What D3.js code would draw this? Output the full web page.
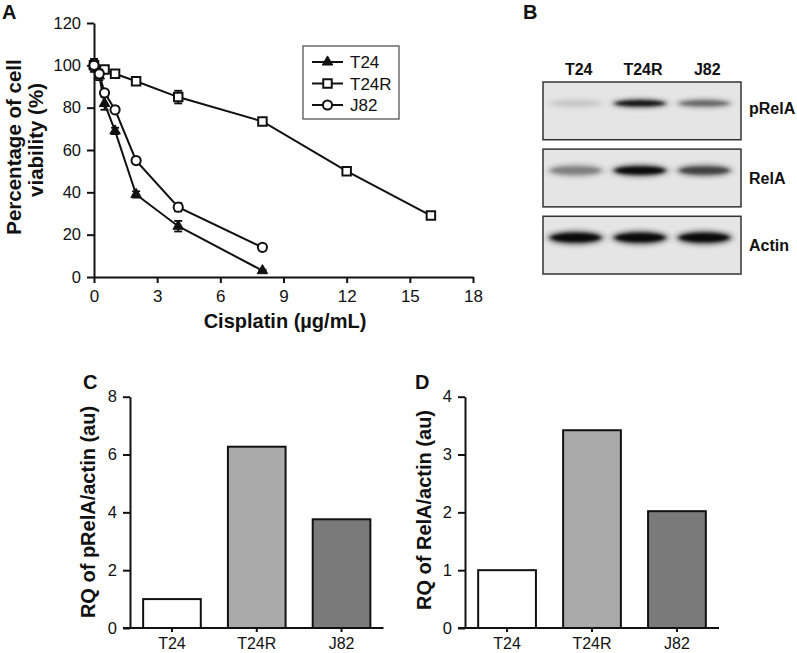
<!DOCTYPE html>
<html><head><meta charset="utf-8">
<script src="https://cdn.jsdelivr.net/npm/d3@7"></script>
<style>
body{margin:0;background:#fff;}
svg text{font-family: Arial, "Liberation Sans", Helvetica, sans-serif; fill:#111;}
</style>
</head><body>
<svg id="chart" width="797" height="653"></svg>
<script>
// ---------- Panel A data ----------
const concT24  = [0, 0.25, 0.5, 1, 2, 4, 8];
const viaT24   = [100, 95, 82, 69, 39, 24, 3];
const errT24   = [3, 2, 3, 1.5, 1.5, 2.5, 0.5];
const concT24R = [0, 0.5, 1, 2, 4, 8, 12, 16];
const viaT24R  = [100, 98, 96, 92.5, 85, 73.5, 50, 29];
const errT24R  = [2, 1, 1, 1, 3, 1, 1.5, 1];
const concJ82  = [0, 0.25, 0.5, 1, 2, 4, 8];
const viaJ82   = [100, 96, 87, 79, 55, 33, 14];
const errJ82   = [3, 2, 1.5, 1.5, 1.5, 2, 1.5];
const xTicksA  = [0, 3, 6, 9, 12, 15, 18];
const yTicksA  = [0, 20, 40, 60, 80, 100, 120];
const seriesNames = ["T24", "T24R", "J82"];

// ---------- Panel B data ----------
const lanes = ["T24", "T24R", "J82"];
const blotRows = ["pRelA", "RelA", "Actin"];
const pRelABands = [0.18, 0.95, 0.6];
const relABands  = [0.5, 1.0, 0.75];
const actinBands = [1.0, 1.0, 1.0];

// ---------- Panels C / D data ----------
const categories = ["T24", "T24R", "J82"];
const pRelAValues = [1.0, 6.27, 3.76];
const relAValues  = [1.0, 3.42, 2.02];
const yTicksC = [0, 2, 4, 6, 8];
const yTicksD = [0, 1, 2, 3, 4];
const barFills = ["#ffffff", "#aaaaaa", "#7a7a7a"];

const svg = d3.select("#chart");
const defs = svg.append("defs");
defs.append("filter").attr("id","blurS").attr("x","-30%").attr("y","-150%").attr("width","160%").attr("height","400%")
  .append("feGaussianBlur").attr("stdDeviation","2.2 1.6");
defs.append("filter").attr("id","blurL").attr("x","-30%").attr("y","-150%").attr("width","160%").attr("height","400%")
  .append("feGaussianBlur").attr("stdDeviation","3.5 2.5");

function styleAxis(g, fs){
  g.selectAll("path.domain").attr("stroke","#111").attr("stroke-width",2);
  g.selectAll(".tick line").attr("stroke","#111").attr("stroke-width",2);
  g.selectAll(".tick text").attr("font-size",fs).attr("fill","#111")
    .style("font-family","Arial, 'Liberation Sans', Helvetica, sans-serif");
}

// panel letters
function letter(t, x, y){
  svg.append("text").attr("x",x).attr("y",y).attr("font-size",20).attr("font-weight","bold").text(t);
}
letter("A", 2, 19);
letter("B", 523, 19);
letter("C", 83, 389);
letter("D", 415, 389);

// ================= Panel A =================
const xA = d3.scaleLinear().domain([0,18]).range([94,473]);
const yA = d3.scaleLinear().domain([0,120]).range([277,23]);

const gxA = svg.append("g").attr("transform",`translate(0,${yA(0)})`)
  .call(d3.axisBottom(xA).tickValues(xTicksA).tickSize(6).tickSizeOuter(0).tickPadding(7));
styleAxis(gxA, 17);
const gyA = svg.append("g").attr("transform",`translate(${xA(0)},0)`)
  .call(d3.axisLeft(yA).tickValues(yTicksA).tickSize(7).tickSizeOuter(0).tickPadding(6));
styleAxis(gyA, 16.5);

svg.append("text").attr("x",285).attr("y",328).attr("text-anchor","middle")
  .attr("font-size",20).attr("font-weight","bold").text("Cisplatin (µg/mL)");
svg.append("text").attr("transform","translate(21,147) rotate(-90)").attr("text-anchor","middle")
  .attr("font-size",20.5).attr("font-weight","bold").text("Percentage of cell");
svg.append("text").attr("transform","translate(42.5,140) rotate(-90)").attr("text-anchor","middle")
  .attr("font-size",20.5).attr("font-weight","bold").text("viability (%)");

const seriesA = [
  {name:"T24",  xs:concT24,  ys:viaT24,  es:errT24,  sym:"tri"},
  {name:"T24R", xs:concT24R, ys:viaT24R, es:errT24R, sym:"sq"},
  {name:"J82",  xs:concJ82,  ys:viaJ82,  es:errJ82,  sym:"circ"}
];
const line = d3.line().x(d=>xA(d.x)).y(d=>yA(d.y));
function drawMarker(sel, sym){
  if(sym==="tri"){
    sel.append("path").attr("d", d3.symbol(d3.symbolTriangle, 48)())
      .attr("fill","#111").attr("stroke","#111").attr("stroke-width",1);
  } else if(sym==="sq"){
    sel.append("path").attr("d", d3.symbol(d3.symbolSquare, 72)())
      .attr("fill","#fff").attr("stroke","#111").attr("stroke-width",2);
  } else {
    sel.append("circle").attr("r",4.6).attr("fill","#fff").attr("stroke","#111").attr("stroke-width",2);
  }
}
seriesA.forEach(s=>{
  const pts = s.xs.map((x,i)=>({x, y:s.ys[i], e:s.es[i]}));
  const g = svg.append("g");
  g.append("path").datum(pts).attr("d",line).attr("fill","none").attr("stroke","#111").attr("stroke-width",2);
  const eb = g.selectAll("g.eb").data(pts).join("g").attr("class","eb");
  eb.append("line").attr("x1",d=>xA(d.x)).attr("x2",d=>xA(d.x))
    .attr("y1",d=>yA(d.y-d.e)).attr("y2",d=>yA(d.y+d.e)).attr("stroke","#111").attr("stroke-width",1.8);
  [-1,1].forEach(sg=>{
    eb.append("line").attr("x1",d=>xA(d.x)-4).attr("x2",d=>xA(d.x)+4)
      .attr("y1",d=>yA(d.y+sg*d.e)).attr("y2",d=>yA(d.y+sg*d.e)).attr("stroke","#111").attr("stroke-width",1.8);
  });
  const mk = g.selectAll("g.mk").data(pts).join("g").attr("class","mk")
    .attr("transform",d=>`translate(${xA(d.x)},${yA(d.y)})`);
  drawMarker(mk, s.sym);
});

// legend
const legX = 303, legY = 46, legW = 96, legH = 73;
svg.append("rect").attr("x",legX).attr("y",legY).attr("width",legW).attr("height",legH)
  .attr("fill","#fff").attr("stroke","#555").attr("stroke-width",1.3);
const legScale = d3.scalePoint().domain(seriesNames).range([legY+16, legY+59]);
seriesA.forEach(s=>{
  const yy = legScale(s.name);
  svg.append("line").attr("x1",legX+9).attr("x2",legX+40).attr("y1",yy).attr("y2",yy)
    .attr("stroke","#111").attr("stroke-width",2);
  const m = svg.append("g").attr("transform",`translate(${legX+24.5},${yy})`);
  drawMarker(m, s.sym);
  svg.append("text").attr("x",legX+47).attr("y",yy).attr("dy","0.36em").attr("font-size",17).text(s.name);
});

// ================= Panel B (blot) =================
const laneX = d3.scaleBand().domain(lanes).range([543,741]).padding(0.08);
const rowY = d3.scaleBand().domain(blotRows).range([82,274]).paddingInner(0.14).paddingOuter(0);
svg.selectAll("text.lane").data(lanes).join("text").attr("class","lane")
  .attr("x",d=>laneX(d)+laneX.bandwidth()/2+1).attr("y",75).attr("text-anchor","middle")
  .attr("font-size",16).attr("font-weight","bold").text(d=>d);
svg.selectAll("rect.box").data(blotRows).join("rect").attr("class","box")
  .attr("x",543).attr("y",d=>rowY(d)).attr("width",198).attr("height",rowY.bandwidth())
  .attr("fill","#e5e5e5").attr("stroke","#333").attr("stroke-width",1.5);
svg.selectAll("text.row").data(blotRows).join("text").attr("class","row")
  .attr("x",749).attr("y",(d,i)=>rowY(d)+rowY.bandwidth()/2 + (i===0?-3:0)).attr("dy","0.36em")
  .attr("font-size",16).attr("font-weight","bold").text(d=>d);
const bandSets = [pRelABands, relABands, actinBands];
const bandThick = [5, 7, 8];
blotRows.forEach((r,ri)=>{
  const vals = bandSets[ri];
  const cy = rowY(r) + rowY.bandwidth()*0.37;
  lanes.forEach((l,li)=>{
    const v = vals[li];
    const cx = laneX(l)+laneX.bandwidth()/2 - 2;
    const g = svg.append("g");
    g.append("ellipse").attr("cx",cx).attr("cy",cy).attr("rx",28).attr("ry",bandThick[ri]*0.9)
      .attr("fill","#000").attr("opacity",v*0.55).attr("filter","url(#blurL)");
    g.append("ellipse").attr("cx",cx).attr("cy",cy).attr("rx",25).attr("ry",bandThick[ri]*0.55)
      .attr("fill","#000").attr("opacity",v*v*0.9).attr("filter","url(#blurS)");
  });
});

// ================= Panels C and D =================
function barPanel(x0, x1, values, yTicks, yMax, title, titleX, titleY){
  const y = d3.scaleLinear().domain([0,yMax]).range([628,396.7]);
  const x = d3.scaleBand().domain(categories).range([x0,x1]).paddingInner(0.32).paddingOuter(0.155);
  svg.selectAll(null).data(categories).join("rect")
    .attr("x",d=>x(d)).attr("y",(d,i)=>y(values[i])).attr("width",x.bandwidth())
    .attr("height",(d,i)=>y(0)-y(values[i])).attr("fill",(d,i)=>barFills[i])
    .attr("stroke","#111").attr("stroke-width",2);
  const gy = svg.append("g").attr("transform",`translate(${x0},0)`)
    .call(d3.axisLeft(y).tickValues(yTicks).tickFormat(d3.format("d")).tickSize(7).tickSizeOuter(0).tickPadding(6));
  styleAxis(gy, 16.5);
  const gx = svg.append("g").attr("transform",`translate(0,${y(0)})`)
    .call(d3.axisBottom(x).tickSize(4).tickSizeOuter(0).tickPadding(6));
  gx.select("path.domain").attr("d",`M${x0-7},0H${x1}`);
  styleAxis(gx, 16);
  svg.append("text").attr("transform",`translate(${titleX},${titleY}) rotate(-90)`).attr("text-anchor","middle")
    .attr("font-size",20).attr("font-weight","bold").text(title);
}
barPanel(130, 383.5, pRelAValues, yTicksC, 8, "RQ of pRelA/actin (au)", 94.5, 512);
barPanel(465, 719, relAValues, yTicksD, 4, "RQ of RelA/actin (au)", 431, 510);
</script>
</body></html>
